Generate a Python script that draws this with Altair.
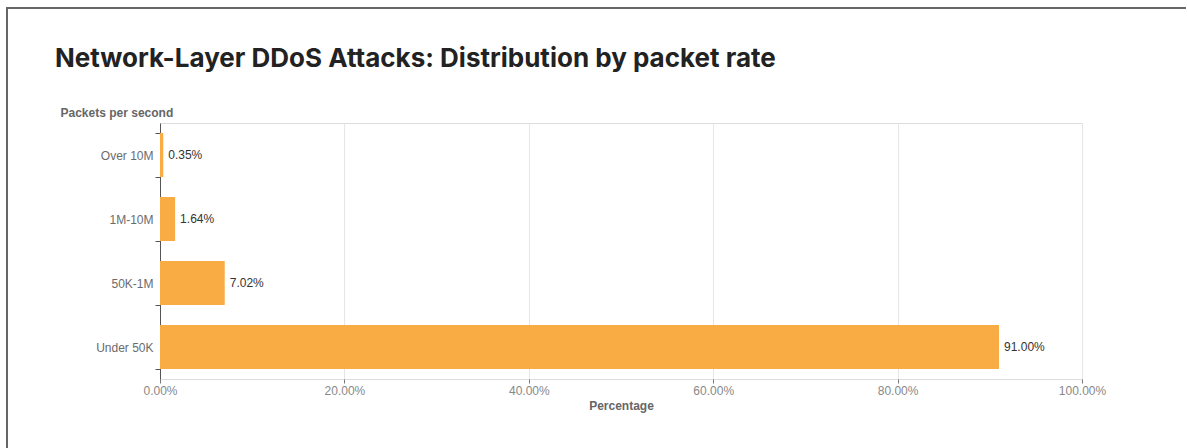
import altair as alt
import pandas as pd

categories = ["Over 10M", "1M-10M", "50K-1M", "Under 50K"]
shares = [0.0035, 0.0164, 0.0702, 0.9100]

df = pd.DataFrame({"rate": categories, "share": shares})

AXIS_FONT = "Liberation Sans"

base = alt.Chart(df)

y_enc = alt.Y(
    "rate:N",
    sort=categories,
    scale=alt.Scale(paddingInner=0.3125, paddingOuter=0.15625),
    axis=alt.Axis(
        title="Packets per second",
        titleAngle=0,
        titleAlign="left",
        titleBaseline="alphabetic",
        titleX=-100,
        titleY=-7,
        titleFont=AXIS_FONT,
        titleFontSize=12,
        titleFontWeight="bold",
        titleColor="#666666",
        labelFont=AXIS_FONT,
        labelFontSize=12,
        labelColor="#6b6b6b",
        labelPadding=2,
        tickSize=5,
        tickBand="extent",
        tickColor="#555555",
        domainColor="#555555",
        grid=False,
    ),
)

x_enc = alt.X(
    "share:Q",
    scale=alt.Scale(domain=[0, 1], nice=False),
    axis=alt.Axis(
        title="Percentage",
        format=".2%",
        values=[0, 0.2, 0.4, 0.6, 0.8, 1.0],
        titleFont=AXIS_FONT,
        titleFontSize=12,
        titleFontWeight="bold",
        titleColor="#666666",
        titlePadding=4,
        labelFont=AXIS_FONT,
        labelFontSize=12,
        labelColor="#888888",
        labelPadding=2,
        labelFlush=False,
        tickSize=4,
        tickColor="#777777",
        domain=False,
        grid=True,
        gridColor="#e6e6e6",
    ),
)

bars = base.mark_bar(color="#F9AC44").encode(x=x_enc, y=y_enc)

labels = base.mark_text(
    align="left", baseline="middle", dx=5, font=AXIS_FONT, fontSize=12, color="#333333"
).encode(
    x="share:Q",
    y=alt.Y("rate:N", sort=categories),
    text=alt.Text("share:Q", format=".2%"),
)

frame_df = pd.DataFrame({"k": [0]})
frame_top = alt.Chart(frame_df).mark_rule(color="#666666", strokeWidth=2, clip=False).encode(
    x=alt.value(-154), x2=alt.value(1026), y=alt.value(-115), y2=alt.value(-115)
)
frame_left = alt.Chart(frame_df).mark_rule(color="#666666", strokeWidth=2, clip=False).encode(
    x=alt.value(-153), x2=alt.value(-153), y=alt.value(-116), y2=alt.value(330)
)

chart = (
    alt.layer(bars, labels, frame_top, frame_left)
    .properties(
        width=922,
        height=256,
        title=alt.TitleParams(
            "Network-Layer DDoS Attacks: Distribution by packet rate",
            anchor="start",
            frame="group",
            font="Inter",
            fontSize=26,
            fontWeight=700,
            color="#222222",
            dx=-105,
            offset=0,
            dy=66,
        ),
        padding={"left": 160, "top": 123, "right": 105, "bottom": 69},
        autosize=alt.AutoSizeParams(type="none"),
    )
    .configure_view(stroke="transparent", strokeWidth=0, strokeOpacity=0)
    .configure(background="white")
)

chart.save("out.html", embed_options={"renderer": "svg", "actions": False})
